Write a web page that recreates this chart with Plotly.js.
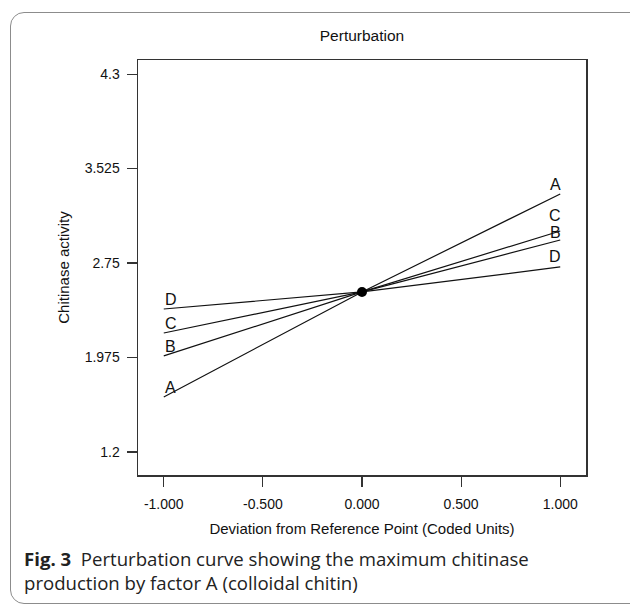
<!DOCTYPE html>
<html>
<head>
<meta charset="utf-8">
<script src="https://cdn.plot.ly/plotly-3.0.1.min.js"></script>
<style>
html,body{margin:0;padding:0;background:#fff;overflow:hidden;}
#wrap{position:relative;width:630px;height:607px;}
#frame{position:absolute;left:10px;top:12px;width:640px;height:592px;border:1.5px solid #8c8c8c;border-radius:14px;pointer-events:none;box-sizing:border-box;}
</style>
</head>
<body>
<div id="wrap">
<div id="chart" style="width:630px;height:607px;"></div>
<div id="frame"></div>
</div>
<script>
// Data
const deviation = [-1, 0, 1];
const seriesNames = ["A", "B", "C", "D"];
const seriesA = [1.651, 2.513, 3.317];
const seriesB = [1.988, 2.513, 2.939];
const seriesC = [2.176, 2.513, 3.013];
const seriesD = [2.373, 2.513, 2.718];
const refPointX = [0];
const refPointY = [2.513];
const xTickVals = [-1, -0.5, 0, 0.5, 1];
const xTickText = ["-1.000", "-0.500", "0.000", "0.500", "1.000"];
const yTickVals = [1.2, 1.975, 2.75, 3.525, 4.3];
const yTickText = ["1.2", "1.975", "2.75", "3.525", "4.3"];

const allSeries = [seriesA, seriesB, seriesC, seriesD];
const FONT = '"Liberation Sans", Arial, sans-serif';
// label vertical nudges (px) at the left / right ends, per series A..D
const leftShift = [-1, -1, -1, -1];
const rightShift = [-1, -3, 5, 0];

const traces = allSeries.map((vals, i) => ({
  x: deviation, y: vals, name: seriesNames[i], type: 'scatter', mode: 'lines',
  line: {color: '#111', width: 1.2}, hoverinfo: 'skip'
}));
traces.push({
  x: refPointX, y: refPointY, type: 'scatter', mode: 'markers',
  marker: {color: '#000', size: 10}, hoverinfo: 'skip', name: 'ref'
});

const annotations = [];
allSeries.forEach((vals, i) => {
  annotations.push({
    x: deviation[0], y: vals[0], xref: 'x', yref: 'y', text: seriesNames[i],
    showarrow: false, xanchor: 'left', yanchor: 'bottom', xshift: -1, yshift: leftShift[i],
    font: {family: FONT, size: 16, color: '#111'}
  });
  annotations.push({
    x: deviation[deviation.length - 1], y: vals[vals.length - 1], xref: 'x', yref: 'y',
    text: seriesNames[i], showarrow: false, xanchor: 'right', yanchor: 'bottom', xshift: 3, yshift: rightShift[i],
    font: {family: FONT, size: 16, color: '#111'}
  });
});
annotations.push({
  xref: 'paper', yref: 'paper', x: -0.258, y: -0.166, xanchor: 'left', yanchor: 'top',
  align: 'left', showarrow: false,
  text: '<b>Fig. 3</b>  Perturbation curve showing the maximum chitinase<br>production by factor A (colloidal chitin)',
  font: {family: '"Open Sans", "Noto Sans", sans-serif', size: 18.6, color: '#222'}
});

const layout = {
  width: 630, height: 607,
  margin: {l: 138, r: 44, t: 60, b: 132},
  paper_bgcolor: '#fff', plot_bgcolor: '#fff',
  showlegend: false,
  font: {family: FONT, size: 15, color: '#111'},
  title: {text: 'Perturbation', font: {family: FONT, size: 15.5, color: '#111'}, x: 0.5, xref: 'paper', xanchor: 'center', y: 0.941, yanchor: 'middle'},
  xaxis: {
    range: [-1.13, 1.13], tickvals: xTickVals, ticktext: xTickText,
    showgrid: false, zeroline: false, showline: true, mirror: true,
    linecolor: '#333', linewidth: 1.5, ticks: 'outside', ticklen: 10, tickwidth: 1.2, tickcolor: '#333',
    ticklabelstandoff: 6,
    tickfont: {family: FONT, size: 14, color: '#111'},
    title: {text: 'Deviation from Reference Point (Coded Units)', font: {family: FONT, size: 15, color: '#111'}, standoff: 12}
  },
  yaxis: {
    range: [1.011, 4.416], tickvals: yTickVals, ticktext: yTickText,
    showgrid: false, zeroline: false, showline: true, mirror: true,
    linecolor: '#333', linewidth: 1.5, ticks: 'outside', ticklen: 10, tickwidth: 1.2, tickcolor: '#333',
    ticklabelstandoff: 4,
    tickfont: {family: FONT, size: 14, color: '#111'},
    title: {text: 'Chitinase activity', font: {family: FONT, size: 15, color: '#111'}, standoff: 11}
  },
  annotations: annotations
};

Plotly.newPlot('chart', traces, layout, {staticPlot: true, displayModeBar: false});
</script>
</body>
</html>
